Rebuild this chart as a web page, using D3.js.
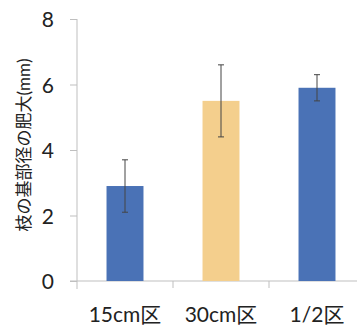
<!DOCTYPE html>
<html>
<head>
<meta charset="utf-8">
<script src="https://cdn.jsdelivr.net/npm/d3@7"></script>
<style>
  html, body { margin: 0; padding: 0; background: #fff; }
  svg { display: block; }
  text { font-family: "Lato", "Noto Sans CJK JP", sans-serif; fill: #222; }
</style>
</head>
<body>
<div id="chart"></div>
<script>
// data
const categories = ['15cm区', '30cm区', '1/2区'];
const means = [2.9, 5.5, 5.9];
const errors = [0.8, 1.1, 0.4];
const barColors = ['#4a72b6', '#f4cf8d', '#4a72b6'];
const yTicks = [0, 2, 4, 6, 8];
const yTitle = '枝の基部径の肥大(mm)';

const width = 357;
const height = 327;

const svg = d3.select('#chart')
  .append('svg')
  .attr('width', width)
  .attr('height', height);

// scales
const x = d3.scaleBand()
  .domain(categories)
  .range([77, 365])
  .paddingInner(0.615)
  .paddingOuter(0.3075);

const y = d3.scaleLinear()
  .domain([0, 8])
  .range([281, 19]);

const axisColor = '#bfbfbf';

// y axis
const yAxis = svg.append('g')
  .attr('transform', 'translate(77,0)')
  .call(d3.axisLeft(y).tickValues(yTicks).tickSize(7).tickPadding(16));
yAxis.select('.domain').remove();
yAxis.selectAll('.tick line').attr('stroke', axisColor);
yAxis.selectAll('.tick text')
  .attr('font-size', 21)
  .attr('dy', '0.36em');

svg.append('line')
  .attr('x1', 77).attr('x2', 77)
  .attr('y1', y(8)).attr('y2', y(0) + 8)
  .attr('stroke', axisColor);

// x axis
svg.append('line')
  .attr('x1', 70).attr('x2', width)
  .attr('y1', y(0)).attr('y2', y(0))
  .attr('stroke', axisColor);

// category boundary ticks
svg.selectAll('.xtick')
  .data(categories.slice(1))
  .enter()
  .append('line')
  .attr('class', 'xtick')
  .attr('x1', (d) => x(d) - x.step() * x.paddingInner() / 2)
  .attr('x2', (d) => x(d) - x.step() * x.paddingInner() / 2)
  .attr('y1', y(0))
  .attr('y2', y(0) + 7)
  .attr('stroke', axisColor);

svg.selectAll('.xlabel')
  .data(categories)
  .enter()
  .append('text')
  .attr('class', 'xlabel')
  .attr('x', (d) => x(d) + x.bandwidth() / 2)
  .attr('y', 322)
  .attr('text-anchor', 'middle')
  .attr('font-size', 21)
  .text((d) => d);

// bars
svg.selectAll('.bar')
  .data(categories)
  .enter()
  .append('rect')
  .attr('class', 'bar')
  .attr('x', (d) => x(d))
  .attr('y', (d, i) => y(means[i]))
  .attr('width', x.bandwidth())
  .attr('height', (d, i) => y(0) - y(means[i]))
  .attr('fill', (d, i) => barColors[i]);

// error bars
const err = svg.selectAll('.err')
  .data(categories)
  .enter()
  .append('g')
  .attr('class', 'err')
  .attr('stroke', '#444')
  .attr('stroke-width', 1);

err.append('line')
  .attr('x1', (d) => x(d) + x.bandwidth() / 2)
  .attr('x2', (d) => x(d) + x.bandwidth() / 2)
  .attr('y1', (d, i) => y(means[i] + errors[i]))
  .attr('y2', (d, i) => y(means[i] - errors[i]));

[1, -1].forEach((s) => {
  err.append('line')
    .attr('x1', (d) => x(d) + x.bandwidth() / 2 - 3)
    .attr('x2', (d) => x(d) + x.bandwidth() / 2 + 3)
    .attr('y1', (d, i) => y(means[i] + s * errors[i]))
    .attr('y2', (d, i) => y(means[i] + s * errors[i]));
});

// y axis title
svg.append('text')
  .attr('transform', 'translate(30,145) rotate(-90)')
  .attr('text-anchor', 'middle')
  .attr('font-size', 17)
  .text(yTitle);
</script>
</body>
</html>
